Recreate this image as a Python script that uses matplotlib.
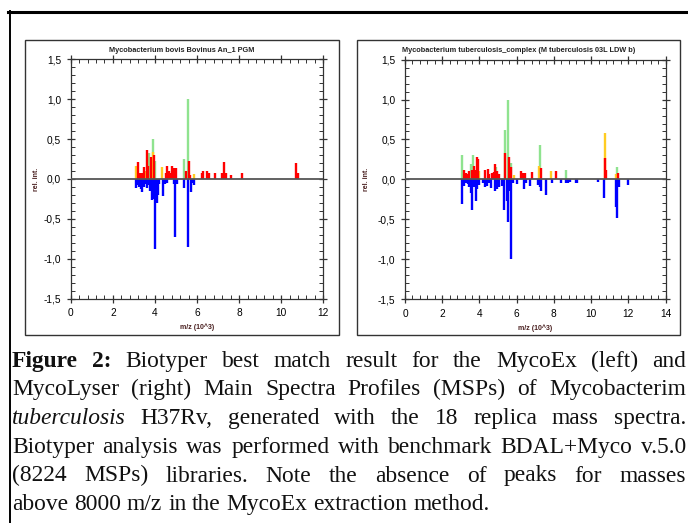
import matplotlib
matplotlib.use("Agg")
import matplotlib.pyplot as plt
from matplotlib.patches import Rectangle
from matplotlib.lines import Line2D
from matplotlib.ticker import MultipleLocator, FuncFormatter

plt.rcParams['font.family'] = ['Liberation Sans', 'DejaVu Sans']

# ---------------- data (m/z in 10^3, relative intensity) ----------------
left_title = "Mycobacterium bovis Bovinus An_1 PGM"
right_title = "Mycobacterium tuberculosis_complex (M tuberculosis 03L LDW b)"

# category: g = green (match), y = yellow (partial), r = red (no match)
left_up_mz = [3.10, 3.21, 3.29, 3.37, 3.48, 3.55, 3.61, 3.69, 3.74, 3.80, 3.89, 3.93,
              3.97, 4.02, 4.35, 4.51, 4.59, 4.67, 4.75, 4.83, 4.91, 4.99, 5.38, 5.46,
              5.56, 5.62, 5.67, 5.86, 6.22, 6.30, 6.49, 6.55, 6.85, 7.20, 7.28, 7.36,
              7.60, 8.12, 10.70, 10.78]
left_up_int = [0.16, 0.21, 0.08, 0.07, 0.15, 0.10, 0.36, 0.16, 0.32, 0.28, 0.50, 0.34,
               0.30, 0.23, 0.15, 0.07, 0.16, 0.10, 0.07, 0.16, 0.14, 0.14, 0.25, 0.10,
               1.00, 0.23, 0.05, 0.06, 0.07, 0.10, 0.10, 0.08, 0.08, 0.07, 0.21, 0.07,
               0.05, 0.08, 0.20, 0.08]
left_up_cat = ['y', 'r', 'r', 'r', 'r', 'y', 'r', 'r', 'g', 'r', 'g', 'y',
               'r', 'g', 'y', 'r', 'r', 'r', 'r', 'r', 'r', 'r', 'g', 'r',
               'g', 'r', 'r', 'y', 'r', 'r', 'r', 'r', 'r', 'r', 'r', 'r',
               'r', 'r', 'r', 'r']
left_dn_mz = [3.10, 3.17, 3.23, 3.32, 3.40, 3.48, 3.55, 3.63, 3.70, 3.78, 3.86, 3.93,
              3.97, 4.01, 4.08, 4.15, 4.21, 4.40, 4.50, 4.59, 4.91, 4.95, 5.03, 5.37,
              5.56, 5.73, 5.79, 5.87]
left_dn_int = [-0.11, -0.08, -0.10, -0.13, -0.16, -0.10, -0.07, -0.12, -0.08, -0.15, -0.27, -0.22,
               -0.25, -0.88, -0.30, -0.20, -0.07, -0.22, -0.07, -0.05, -0.07, -0.73, -0.06, -0.12,
               -0.85, -0.16, -0.05, -0.08]

right_up_mz = [3.09, 3.18, 3.27, 3.36, 3.45, 3.54, 3.61, 3.64, 3.72, 3.81, 3.86, 3.93,
               3.98, 4.31, 4.45, 4.54, 4.67, 4.76, 4.83, 4.88, 4.94, 4.97, 5.06, 5.35,
               5.39, 5.55, 5.58, 5.71, 5.67, 5.85, 6.23, 6.34, 6.46, 6.82, 7.20, 7.27,
               7.32, 7.86, 8.10, 8.63, 10.73, 10.75, 10.82, 11.34, 11.40, 11.45]
right_up_int = [0.30, 0.12, 0.08, 0.07, 0.10, 0.19, 0.12, 0.31, 0.17, 0.12, 0.28, 0.25,
                0.10, 0.12, 0.13, 0.07, 0.08, 0.09, 0.19, 0.16, 0.08, 0.11, 0.07, 0.62,
                0.33, 1.00, 0.28, 0.21, 0.15, 0.06, 0.10, 0.08, 0.08, 0.09, 0.17, 0.43,
                0.14, 0.11, 0.10, 0.12, 0.58, 0.27, 0.12, 0.07, 0.16, 0.08]
right_up_cat = ['g', 'r', 'r', 'r', 'r', 'g', 'r', 'g', 'r', 'r', 'r', 'r',
                'y', 'r', 'r', 'r', 'r', 'r', 'r', 'g', 'y', 'r', 'r', 'g',
                'r', 'g', 'r', 'g', 'r', 'y', 'r', 'r', 'r', 'r', 'y', 'g',
                'r', 'y', 'r', 'g', 'y', 'r', 'r', 'y', 'g', 'r']
right_dn_mz = [3.09, 3.18, 3.27, 3.36, 3.45, 3.54, 3.61, 3.70, 3.79, 3.88, 3.97, 4.20,
               4.31, 4.40, 4.51, 4.63, 4.86, 4.95, 5.06, 5.19, 5.33, 5.47, 5.55, 5.62,
               5.71, 5.83, 6.01, 6.37, 6.48, 6.73, 7.13, 7.23, 7.31, 7.59, 7.90, 8.38,
               8.67, 8.78, 8.89, 9.19, 9.26, 10.37, 10.72, 11.34, 11.40, 11.49, 11.99]
right_dn_int = [-0.31, -0.08, -0.05, -0.06, -0.10, -0.17, -0.39, -0.09, -0.27, -0.12, -0.07, -0.05,
                -0.10, -0.08, -0.05, -0.11, -0.14, -0.12, -0.09, -0.08, -0.39, -0.27, -0.53, -0.15,
                -1.00, -0.05, -0.06, -0.12, -0.04, -0.08, -0.07, -0.10, -0.15, -0.19, -0.04, -0.04,
                -0.05, -0.04, -0.03, -0.04, -0.04, -0.03, -0.24, -0.35, -0.49, -0.10, -0.07]

caption_lines = [
    "Figure 2: Biotyper best match result for the MycoEx (left) and",
    "MycoLyser (right) Main Spectra Profiles (MSPs) of Mycobacterim",
    "tuberculosis H37Rv, generated with the 18 replica mass spectra.",
    "Biotyper analysis was performed with benchmark BDAL+Myco v.5.0",
    "(8224 MSPs) libraries. Note the absence of peaks for masses",
    "above 8000 m/z in the MycoEx extraction method.",
]
bold_words = {(0, 0), (0, 1)}
italic_words = {(1, 9), (2, 0)}

# ---------------- layout ----------------
W, H = 688, 523
fig = plt.figure(figsize=(6.88, 5.23), dpi=100)


def fx(px):
    return px / W


def fy(py):
    return 1 - py / H


def add_axes_px(l, t, r, b):
    return fig.add_axes([fx(l), fy(b), fx(r) - fx(l), fy(t) - fy(b)])


# outer frame
fig.add_artist(Line2D([fx(8), fx(690)], [fy(12), fy(12)], lw=2.2, color='black'))
fig.add_artist(Line2D([fx(10), fx(10)], [fy(11), fy(525)], lw=1.4, color='black'))

colors = {'g': '#8fe38f', 'y': '#ffcc22', 'r': '#ff0000'}
zorders = {'g': 2, 'y': 3, 'r': 4}


def panel(box, axbox, xmax, title, up_mz, up_int, up_cat, dn_mz, dn_int, ylab_x):
    bl, bt, br, bb = box
    fig.add_artist(Rectangle((fx(bl), fy(bb)), fx(br) - fx(bl), fy(bt) - fy(bb),
                             fill=False, lw=1.0, ec='#333333', transform=fig.transFigure))
    fig.text(fx((bl + br) / 2), fy(50), title, fontsize=5.3, fontweight='bold',
             ha='center', va='center', color='#222222')
    ax = add_axes_px(*axbox)
    ax.set_xlim(0, xmax)
    ax.set_ylim(-1.5, 1.5)
    for c in ['g', 'y', 'r']:
        xs = [m for m, k in zip(up_mz, up_cat) if k == c]
        ys = [v for v, k in zip(up_int, up_cat) if k == c]
        ax.vlines(xs, 0, ys, colors=colors[c], lw=1.7, zorder=zorders[c])
    ax.vlines(dn_mz, 0, dn_int, colors='#0000ff', lw=1.7, zorder=4)
    ax.axhline(0, color='#555555', lw=1.3, zorder=5)
    ax.xaxis.set_major_locator(MultipleLocator(2))
    ax.xaxis.set_minor_locator(MultipleLocator(0.4))
    ax.yaxis.set_major_locator(MultipleLocator(0.5))
    ax.yaxis.set_minor_locator(MultipleLocator(0.1))
    ax.yaxis.set_major_formatter(FuncFormatter(lambda v, p: f"{v:.1f}".replace('.', ',')))
    ax.xaxis.set_major_formatter(FuncFormatter(lambda v, p: f"{v:.0f}"))
    ax.tick_params(which='major', direction='inout', length=6, width=0.9,
                   top=True, right=True, labelsize=7.3, pad=4, color='#333333')
    ax.tick_params(which='minor', direction='in', length=3, width=0.7,
                   top=True, right=True, color='#333333')
    for s in ax.spines.values():
        s.set_color('#333333')
        s.set_linewidth(0.9)
    ax.set_xlabel('m/z (10^3)', fontsize=5, fontweight='bold', color='#4a2020', labelpad=4)
    fig.text(fx(ylab_x), fy(179), 'rel. int.', rotation=90, fontsize=5,
             fontweight='bold', color='#4a2020', ha='center', va='center')
    return ax


panel((24.5, 40, 338.6, 335), (70.7, 59.3, 323.3, 298.5), 12, left_title,
      left_up_mz, left_up_int, left_up_cat, left_dn_mz, left_dn_int, 37)
panel((356.7, 40, 680, 335), (405, 59.7, 665.5, 299), 14, right_title,
      right_up_mz, right_up_int, right_up_cat, right_dn_mz, right_dn_int, 367)

# ---------------- caption (justified) ----------------
renderer = fig.canvas.get_renderer()
cap_left, cap_right = 12, 686
base0, step = 366.7, 28.7
serif = ['Liberation Serif', 'DejaVu Serif']

# size the caption font so the last (unjustified) line spans as in the reference
probe = fig.text(0, 0, caption_lines[-1], fontsize=15, family=serif)
natural = probe.get_window_extent(renderer).width
probe.remove()
cap_size = 15 * 481.0 / natural

for li, line in enumerate(caption_lines):
    words = line.split(' ')
    texts = []
    for wi, w in enumerate(words):
        kw = dict(fontsize=cap_size, family=serif,
                  color='#111111', va='baseline', ha='left')
        if (li, wi) in bold_words:
            kw['fontweight'] = 'bold'
        if (li, wi) in italic_words:
            kw['style'] = 'italic'
        texts.append(fig.text(0, fy(base0 + li * step), w, **kw))
    widths = [t.get_window_extent(renderer).width for t in texts]
    if li < len(caption_lines) - 1:
        gap = (cap_right - cap_left - sum(widths)) / (len(words) - 1)
        gap = max(gap, 1.0)
    else:
        sp = fig.text(0, 0, 'a a', fontsize=cap_size, family=serif)
        sa = fig.text(0, 0, 'aa', fontsize=cap_size, family=serif)
        gap = sp.get_window_extent(renderer).width - sa.get_window_extent(renderer).width
        sp.remove()
        sa.remove()
    x = cap_left
    for t, wdt in zip(texts, widths):
        t.set_x(fx(x))
        x += wdt + gap

fig.savefig('out.png', dpi=100)
